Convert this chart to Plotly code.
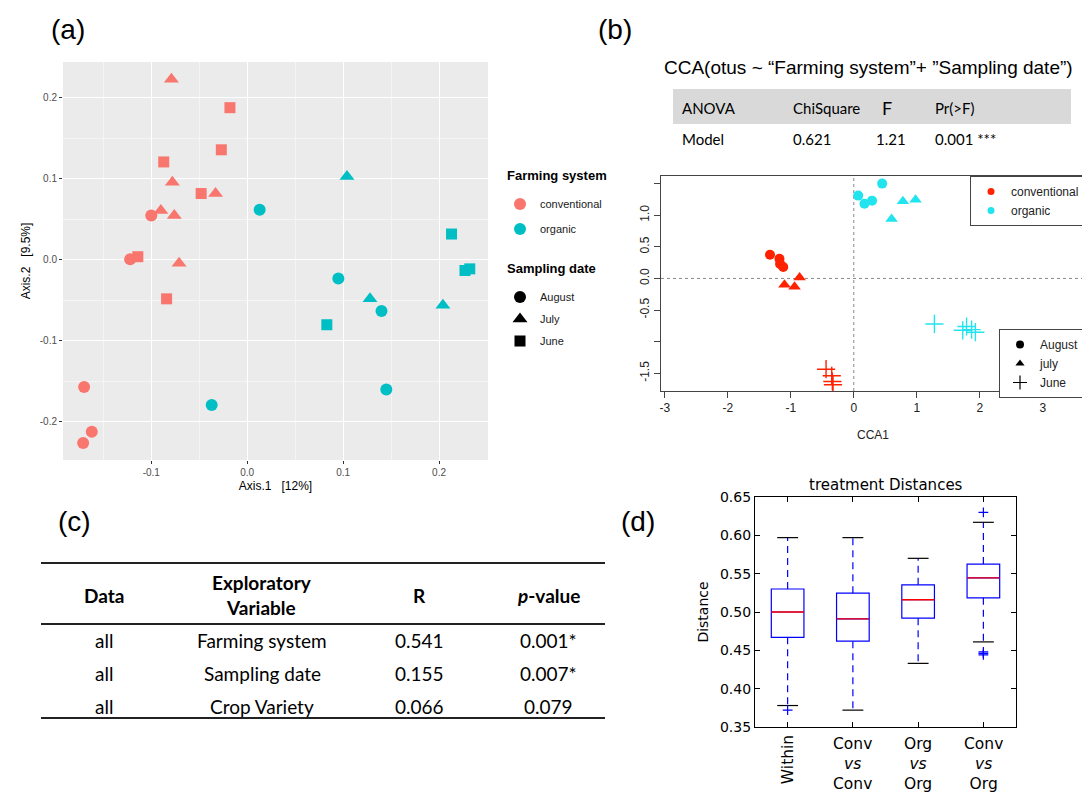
import plotly.graph_objects as go

W, H = 1090, 796


def px(x):
    return x / W


def py(y):
    return 1 - y / H


# ---------------- Panel (a): PCoA ----------------
pcoa_x = [-0.079, -0.078, -0.033, -0.090, -0.076, -0.071,
          -0.018, -0.027, -0.087, -0.048, -0.114, -0.084,
          -0.100, -0.122, -0.170, -0.162, -0.171,
          0.104, 0.128, 0.204,
          0.213, 0.227, 0.232, 0.083,
          0.013, 0.095, 0.140, 0.145, -0.037]
pcoa_y = [0.223, 0.096, 0.082, 0.061, 0.055, -0.004,
          0.188, 0.136, 0.121, 0.082, 0.004, -0.048,
          0.055, 0.001, -0.157, -0.212, -0.226,
          0.103, -0.048, -0.056,
          0.032, -0.013, -0.011, -0.080,
          0.062, -0.023, -0.063, -0.160, -0.179]
pcoa_system = (["conventional"] * 17) + (["organic"] * 12)
pcoa_date = (["July"] * 6 + ["June"] * 6 + ["August"] * 5 +
             ["July"] * 3 + ["June"] * 4 + ["August"] * 5)
systems = ["conventional", "organic"]
dates_a = ["August", "July", "June"]
a_xticks = [-0.1, 0.0, 0.1, 0.2]
a_yticks = [-0.2, -0.1, 0.0, 0.1, 0.2]

# ---------------- Panel (b): CCA ----------------
cca_x = [-1.33, -1.18, -1.17, -1.12,
         -1.10, -0.94, -0.86,
         -0.44, -0.35, -0.34, -0.33,
         0.07, 0.17, 0.29, 0.45,
         0.60, 0.78, 0.98,
         1.28, 1.73, 1.79, 1.87, 1.93]
cca_y = [0.375, 0.31, 0.23, 0.18,
         -0.10, -0.13, 0.015,
         -1.435, -1.54, -1.63, -1.68,
         1.31, 1.18, 1.23, 1.50,
         0.94, 1.22, 1.245,
         -0.72, -0.82, -0.76, -0.81, -0.85]
cca_system = ["conventional"] * 11 + ["organic"] * 12
cca_date = (["August"] * 4 + ["july"] * 3 + ["June"] * 4 +
            ["August"] * 4 + ["july"] * 3 + ["June"] * 5)
dates_b = ["August", "july", "June"]
b_xticks = [-3, -2, -1, 0, 1, 2, 3]
b_yticks = [-1.5, -1.0, -0.5, 0.0, 0.5, 1.0, 1.5]
b_yticktext = ["-1.5", "", "-0.5", "0.0", "0.5", "1.0", ""]

cca_title = "CCA(otus ~ \u201cFarming system\u201d+ \u201dSampling date\u201d)"
anova_header = ["ANOVA", "ChiSquare", "F", "Pr(>F)"]
anova_row = ["Model", "0.621", "1.21", "0.001 ***"]

# ---------------- Panel (c): table ----------------
tbl_header = ["Data", "Exploratory<br>Variable", "R", "<i>p</i>-value"]
tbl_data = ["all", "all", "all"]
tbl_var = ["Farming system", "Sampling date", "Crop Variety"]
tbl_R = ["0.541", "0.155", "0.066"]
tbl_p = ["0.001*", "0.007*", "0.079"]

# ---------------- Panel (d): boxplot ----------------
box_labels = ["Within", "Conv<br><i>vs</i><br>Conv",
              "Org<br><i>vs</i><br>Org", "Conv<br><i>vs</i><br>Org"]
box_pos = [1, 2, 3, 4]
box_q1 = [0.467, 0.462, 0.492, 0.5185]
box_med = [0.500, 0.491, 0.516, 0.5445]
box_q3 = [0.530, 0.5245, 0.5355, 0.5625]
box_lo = [0.378, 0.372, 0.433, 0.461]
box_hi = [0.597, 0.597, 0.570, 0.617]
out_pos = [1, 4, 4, 4, 4]
out_val = [0.372, 0.630, 0.448, 0.446, 0.444]
d_yticks = [0.35, 0.40, 0.45, 0.50, 0.55, 0.60, 0.65]

fig = go.Figure()

# ---- (a) traces
col_a = {"conventional": "#F8766D", "organic": "#00BFC4"}
sym_a = {"August": "circle", "July": "triangle-up", "June": "square"}
size_a = {"August": 12, "July": 13, "June": 11}
for s in systems:
    for d in dates_a:
        xs = [x for x, ss, dd in zip(pcoa_x, pcoa_system, pcoa_date) if ss == s and dd == d]
        ys = [y for y, ss, dd in zip(pcoa_y, pcoa_system, pcoa_date) if ss == s and dd == d]
        fig.add_trace(go.Scatter(x=xs, y=ys, mode="markers", xaxis="x", yaxis="y",
                                 marker=dict(symbol=sym_a[d], size=size_a[d], color=col_a[s],
                                             line=dict(width=0)),
                                 showlegend=False, hoverinfo="skip"))

# legend (a): one legend per entry so the spacing follows ggplot
leg_a_ids = ["legend", "legend2", "legend3", "legend4", "legend5"]
leg_a_y = [196, 221, 289, 311, 333]
leg_a_entries = ([(s, "circle", 12, col_a[s]) for s in systems] +
                 [(d, sym_a[d], size_a[d], "black") for d in dates_a])
for lid, (name, sym, sz, colr) in zip(leg_a_ids, leg_a_entries):
    fig.add_trace(go.Scatter(x=[None], y=[None], mode="markers", xaxis="x", yaxis="y",
                             marker=dict(symbol=sym, size=sz, color=colr),
                             name=name, legend=lid, showlegend=True))

# ---- (b) traces
col_b = {"conventional": "#FF2200", "organic": "#22E4EE"}
sym_b = {"August": "circle", "july": "triangle-up", "June": "cross-thin"}
size_b = {"August": 10, "july": 11, "June": 13}
for s in systems:
    for d in dates_b:
        xs = [x for x, ss, dd in zip(cca_x, cca_system, cca_date) if ss == s and dd == d]
        ys = [y for y, ss, dd in zip(cca_y, cca_system, cca_date) if ss == s and dd == d]
        fig.add_trace(go.Scatter(x=xs, y=ys, mode="markers", xaxis="x2", yaxis="y2",
                                 marker=dict(symbol=sym_b[d], size=size_b[d], color=col_b[s],
                                             line=dict(width=1.4 if d == "June" else 0, color=col_b[s])),
                                 showlegend=False, hoverinfo="skip"))
for s in systems:
    fig.add_trace(go.Scatter(x=[None], y=[None], mode="markers", xaxis="x2", yaxis="y2",
                             marker=dict(symbol="circle", size=7, color=col_b[s]),
                             name=s, legend="legend6", showlegend=True))
for d in dates_b:
    fig.add_trace(go.Scatter(x=[None], y=[None], mode="markers", xaxis="x2", yaxis="y2",
                             marker=dict(symbol=sym_b[d], size=8 if d != "June" else 10, color="black",
                                         line=dict(width=1.2 if d == "June" else 0, color="black")),
                             name=d, legend="legend7", showlegend=True))

# ---- (d) traces
fig.add_trace(go.Box(x=box_pos, q1=box_q1, median=box_med, q3=box_q3,
                     lowerfence=box_q1, upperfence=box_q3, width=0.5,
                     whiskerwidth=0, boxpoints=False,
                     line=dict(color="#0000FF", width=1.2), fillcolor="rgba(0,0,0,0)",
                     xaxis="x3", yaxis="y3", showlegend=False, hoverinfo="skip"))
wx, wy, cx, cy, mx, my = [], [], [], [], [], []
for p, q1, q3, lo, hi, md in zip(box_pos, box_q1, box_q3, box_lo, box_hi, box_med):
    wx += [p, p, None, p, p, None]
    wy += [q3, hi, None, q1, lo, None]
    cx += [p - 0.16, p + 0.16, None, p - 0.16, p + 0.16, None]
    cy += [hi, hi, None, lo, lo, None]
    mx += [p - 0.25, p + 0.25, None]
    my += [md, md, None]
fig.add_trace(go.Scatter(x=wx, y=wy, mode="lines", xaxis="x3", yaxis="y3",
                         line=dict(color="#0000FF", width=1.2, dash="7px,5px"),
                         showlegend=False, hoverinfo="skip"))
fig.add_trace(go.Scatter(x=cx, y=cy, mode="lines", xaxis="x3", yaxis="y3",
                         line=dict(color="black", width=1.2),
                         showlegend=False, hoverinfo="skip"))
fig.add_trace(go.Scatter(x=mx, y=my, mode="lines", xaxis="x3", yaxis="y3",
                         line=dict(color="#FF0000", width=1.3),
                         showlegend=False, hoverinfo="skip"))
fig.add_trace(go.Scatter(x=out_pos, y=out_val, mode="markers", xaxis="x3", yaxis="y3",
                         marker=dict(symbol="cross-thin", size=7, color="#0000FF",
                                     line=dict(width=1.2, color="#0000FF")),
                         showlegend=False, hoverinfo="skip"))

# ---------------- Annotations ----------------
ann = []
LAB = dict(family="Liberation Sans, Arial", size=28, color="black")
for t, x, y in [("(a)", 60, 22), ("(b)", 607, 22), ("(c)", 66, 513), ("(d)", 630, 513)]:
    ann.append(dict(text=t, x=px(x), y=py(y), xref="paper", yref="paper", showarrow=False,
                    xanchor="center", yanchor="middle", font=LAB))

# legend (a) titles
for t, y in [("Farming system", 167), ("Sampling date", 260)]:
    ann.append(dict(text="<b>" + t + "</b>", x=px(497), y=py(y), xref="paper", yref="paper",
                    showarrow=False, xanchor="left", yanchor="middle",
                    font=dict(family="Liberation Sans, Arial", size=13, color="black")))

ann.append(dict(text=cca_title, x=px(860), y=py(60), xref="paper", yref="paper", showarrow=False,
                xanchor="center", yanchor="middle",
                font=dict(family="Liberation Sans, Arial", size=19, color="black")))
anova_x = [672, 783, 872, 925]
anova_xr = [672, 783, 866, 925]
for i, (h, r) in enumerate(zip(anova_header, anova_row)):
    ann.append(dict(text=h, x=px(anova_x[i]), y=py(100), xref="paper", yref="paper",
                    showarrow=False, xanchor="left", yanchor="middle",
                    font=dict(family="Lato", size=18 if h == "F" else 15, color="black")))
    ann.append(dict(text=r, x=px(anova_xr[i]), y=py(131), xref="paper", yref="paper",
                    showarrow=False, xanchor="left", yanchor="middle",
                    font=dict(family="Lato", size=15, color="black")))

# table (c)
col_cx = [96, 254, 411, 540]
for i, h in enumerate(tbl_header):
    ann.append(dict(text="<b>" + h.replace("<br>", "</b><br><b>") + "</b>", x=px(col_cx[i]), y=py(587),
                    xref="paper", yref="paper", showarrow=False, xanchor="center",
                    yanchor="middle", align="center",
                    font=dict(family="Lato", size=19, color="black")))
row_y = [632, 665, 698]
for j in range(len(tbl_data)):
    for i, v in enumerate([tbl_data[j], tbl_var[j], tbl_R[j], tbl_p[j]]):
        ann.append(dict(text=v, x=px(col_cx[i]), y=py(row_y[j]), xref="paper", yref="paper",
                        showarrow=False, xanchor="center", yanchor="middle",
                        font=dict(family="Lato", size=19, color="black")))

# panel (d) title and x labels
ann.append(dict(text="treatment Distances", x=px(878), y=py(477), xref="paper", yref="paper",
                showarrow=False, xanchor="center", yanchor="middle",
                font=dict(family="DejaVu Sans", size=15, color="black")))
for p, lab in zip(box_pos, box_labels):
    ann.append(dict(text=lab, x=p, y=py(725), xref="x3", yref="paper", showarrow=False,
                    xanchor="center", yanchor="top", align="center",
                    textangle=-90 if "<br>" not in lab else 0,
                    font=dict(family="DejaVu Sans", size=15.5, color="black")))

# ---------------- Shapes ----------------
shapes = [
    dict(type="rect", xref="x domain", yref="y domain", x0=0, x1=1, y0=0, y1=1,
         fillcolor="#EBEBEB", line=dict(width=0), layer="below"),
    dict(type="line", xref="x2", yref="y2 domain", x0=0, x1=0, y0=0, y1=1,
         line=dict(color="#888888", width=1, dash="dot"), layer="below"),
    dict(type="line", xref="x2 domain", yref="y2", x0=0, x1=1, y0=0, y1=0,
         line=dict(color="#888888", width=1, dash="dot"), layer="below"),
    dict(type="rect", xref="paper", yref="paper", x0=px(665), x1=px(1063), y0=py(116), y1=py(81),
         fillcolor="#D9D9D9", line=dict(width=0), layer="below"),
]
for yy in [555, 616, 710]:
    shapes.append(dict(type="line", xref="paper", yref="paper", x0=px(33), x1=px(597),
                       y0=py(yy), y1=py(yy), line=dict(color="#222222", width=2)))

AX_A = dict(showgrid=True, gridcolor="white", gridwidth=1.1, zeroline=False,
            ticks="outside", ticklen=3, tickcolor="#333333",
            tickfont=dict(family="Liberation Sans, Arial", size=10, color="#4D4D4D"),
            minor=dict(showgrid=True, gridcolor="#F5F5F5", gridwidth=0.6, dtick=0.05),
            showline=False)

legends = {}
for lid, y in zip(leg_a_ids, leg_a_y):
    legends[lid] = dict(x=px(492), y=py(y), xanchor="left", yanchor="middle",
                        bgcolor="rgba(0,0,0,0)", borderwidth=0,
                        font=dict(family="Liberation Sans, Arial", size=11, color="#1A1A1A"),
                        itemwidth=30)
legends["legend6"] = dict(x=px(1077), y=py(168), xanchor="right", yanchor="top",
                          bgcolor="white", bordercolor="#444444", borderwidth=1,
                          font=dict(family="Liberation Sans, Arial", size=12, color="#222222"),
                          itemwidth=30, tracegroupgap=0)
legends["legend7"] = dict(x=px(1077), y=py(321), xanchor="right", yanchor="top",
                          bgcolor="white", bordercolor="#444444", borderwidth=1,
                          font=dict(family="Liberation Sans, Arial", size=12, color="#222222"),
                          itemwidth=30, tracegroupgap=0)

fig.update_layout(
    width=W, height=H, margin=dict(l=0, r=0, t=0, b=0, autoexpand=False),
    paper_bgcolor="white", plot_bgcolor="rgba(0,0,0,0)",
    font=dict(family="Liberation Sans, Arial", color="black"),
    xaxis=dict(domain=[px(55), px(480)], range=[-0.192, 0.251], anchor="y",
               tickvals=a_xticks, ticktext=["%.1f" % v for v in a_xticks],
               title=dict(text="Axis.1\u00a0\u00a0\u00a0[12%]", standoff=4,
                          font=dict(size=12, color="black")), **AX_A),
    yaxis=dict(domain=[py(452), py(54)], range=[-0.247, 0.2444], anchor="x",
               tickvals=a_yticks, ticktext=["%.1f" % v for v in a_yticks],
               title=dict(text="Axis.2\u00a0\u00a0\u00a0[9.5%]", standoff=6,
                          font=dict(size=12, color="black")), **AX_A),
    xaxis2=dict(domain=[px(653), px(1077)], range=[-3.06, 3.67], anchor="y2",
                tickvals=b_xticks, ticktext=[str(v) for v in b_xticks],
                showgrid=False, zeroline=False, showline=True, mirror=True,
                linecolor="#444444", linewidth=1, ticks="outside", ticklen=6, tickcolor="#444444",
                tickfont=dict(size=12, color="#222222"),
                title=dict(text="CCA1", standoff=16, font=dict(size=12, color="#222222"))),
    yaxis2=dict(domain=[py(383), py(168)], range=[-1.78, 1.62], anchor="x2",
                tickvals=b_yticks, ticktext=b_yticktext, tickangle=-90,
                showgrid=False, zeroline=False, showline=True, mirror=True,
                linecolor="#444444", linewidth=1, ticks="outside", ticklen=6, tickcolor="#444444",
                tickfont=dict(size=12, color="#222222")),
    xaxis3=dict(domain=[px(747), px(1008)], range=[0.5, 4.5], anchor="y3",
                tickvals=box_pos, ticktext=["" for _ in box_pos],
                showgrid=False, zeroline=False, showline=True, mirror="allticks",
                linecolor="black", linewidth=1.2, ticks="inside", ticklen=5, tickcolor="black"),
    yaxis3=dict(domain=[py(719), py(489)], range=[0.35, 0.65], anchor="x3",
                tickvals=d_yticks, ticktext=["%.2f" % v for v in d_yticks],
                showgrid=False, zeroline=False, showline=True, mirror="allticks",
                linecolor="black", linewidth=1.2, ticks="inside", ticklen=5, tickcolor="black",
                tickfont=dict(family="DejaVu Sans", size=14, color="black"),
                title=dict(text="Distance", standoff=8,
                           font=dict(family="DejaVu Sans", size=14, color="black"))),
    annotations=ann,
    shapes=shapes,
    hovermode=False,
    **legends,
)

fig.write_html("out.html")
